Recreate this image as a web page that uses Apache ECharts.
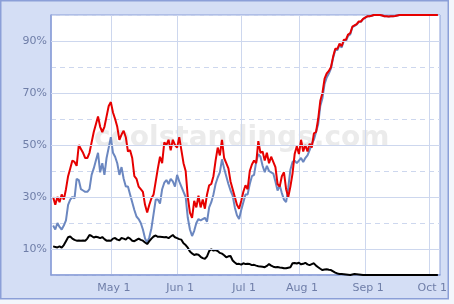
<!DOCTYPE html>
<html><head><meta charset="utf-8">
<script src="https://cdn.jsdelivr.net/npm/echarts@6/dist/echarts.min.js"></script>
<style>html,body{margin:0;padding:0;background:#f3f6fc}#c{width:454px;height:304px}</style>
</head><body><div id="c"></div>
<script>
// Axis: daily categories (game days), Apr 3 .. Oct 6, All-Star break days removed
const monthNames = ['Jan','Feb','Mar','Apr','May','Jun','Jul','Aug','Sep','Oct','Nov','Dec'];
const skipDays = ['Jul 12','Jul 13','Jul 14','Jul 15'];
const yTickLabels = [10, 30, 50, 70, 90];

// Values for Apr 4 .. Oct 5 (percent)
const redSeries = [
 30, 27, 30, 28, 31, 29, 33, 38, 41, 44,
 43.5, 42, 50, 48.5, 47, 45, 45, 47, 51, 55,
 58, 61, 57, 55, 57, 61, 65, 66.5, 62.5, 60,
 57, 52, 54, 55.5, 53, 47.5, 48, 45, 38, 37,
 34, 33, 32, 27, 24, 27, 29.5, 31, 36, 41,
 45.5, 43, 51, 50, 52, 48, 52, 50, 49, 53,
 48, 43, 40, 30, 24, 22, 28.5, 26, 30.5, 26,
 29, 25.5, 31, 34.5, 35, 38, 44, 49, 46, 52,
 45, 43, 41, 36, 33, 30, 27, 25.5, 28.5, 32,
 34.5, 33, 40, 42.5, 44, 43, 51.5, 47, 47.5, 44,
 47, 43, 45.5, 43.5, 41.5, 35, 34, 38, 39.5, 33,
 30, 34, 39, 46.5, 49.5, 46.5, 52, 47.5, 50, 47.5,
 50.5, 49, 54.5, 55, 60, 67, 70, 75.5, 77.5, 78.5,
 80, 84, 87, 87, 89, 88, 90.5, 90.5, 92.5, 93,
 95.5, 96, 96.5, 97.5, 97.5, 98.5, 99, 99.5, 99.5, 99.7,
 100, 100, 100, 100, 99.8, 99.5, 99.5, 99.4, 99.5, 99.5,
 99.6, 99.8, 100, 100, 100, 100, 100, 100, 100, 100,
 100, 100, 100, 100, 100, 100, 100, 100, 100, 100,
 100
];
const blueSeries = [
 19, 17.5, 20, 18.5, 17.5, 19, 21, 27, 29, 30,
 29.5, 37, 36.5, 33, 32.5, 32, 32, 33, 38.5, 41,
 44, 47, 39.5, 43, 38.5, 45, 49, 53, 47, 45.5,
 43, 38.5, 41.5, 37, 34, 34, 31, 28, 25, 22.5,
 21.5, 20, 17.5, 14, 12.5, 14.5, 18, 23.5, 29, 29,
 27.5, 33, 35.5, 36.5, 35, 37, 36, 34, 38.5, 36,
 34, 32, 30, 22, 17.5, 15, 17, 20, 21.5, 21,
 21.5, 22, 20.5, 26, 28, 31, 35, 37.5, 39.5, 44.5,
 41, 38, 35, 32.5, 30.5, 26, 23, 21.5, 25, 28,
 31, 31, 35, 38, 38.5, 43.5, 46.5, 45.5, 42, 39.5,
 42, 40, 39.5, 39, 36, 32.5, 34.5, 31.5, 29, 28,
 33.5, 40.5, 43.5, 44, 43, 44, 45, 43.5, 45, 46,
 48, 50.5, 52, 55, 58, 65, 68, 73.5, 76, 77.5,
 79.5, 83.5, 86.5, 86.5, 88.5, 87.5, 90, 90, 92, 92.5,
 95.3, 95.8, 96.3, 97.3, 97.4, 98.4, 99, 99.5, 99.5, 99.7,
 100, 100, 100, 100, 99.8, 99.5, 99.5, 99.4, 99.5, 99.5,
 99.6, 99.8, 100, 100, 100, 100, 100, 100, 100, 100,
 100, 100, 100, 100, 100, 100, 100, 100, 100, 100,
 100
];
const blackSeries = [
 11, 10.8, 10.6, 11, 10.5, 11.5, 13, 14.5, 14.8, 14,
 13.5, 13.2, 13.3, 13.2, 13.3, 13.2, 14, 15.4, 15, 14.4,
 14.7, 14.5, 14.2, 14.6, 13.8, 13.2, 13.3, 13.2, 14, 14.2,
 13.6, 13.4, 14.2, 14, 13.6, 14.5, 14, 13.2, 13, 13.5,
 14, 13.5, 13.2, 12.5, 11.9, 13, 14, 14.8, 15.2, 14.7,
 14.7, 14.6, 14.5, 14.6, 14.2, 14.8, 15.4, 14.5, 14.2, 13.8,
 13.6, 12.2, 11.5, 10.5, 9, 8.3, 7.7, 8, 7.8, 7,
 6.5, 6.2, 7.2, 9.2, 9.9, 9.4, 9.6, 9.2, 8.5, 8.2,
 7.6, 6.8, 7.2, 7.3, 5.6, 4.8, 4.2, 4.3, 4, 4.5,
 4.2, 4.3, 4.2, 3.8, 3.9, 3.6, 3.4, 3.3, 3.2, 3,
 3.5, 4.2, 3.6, 3.2, 3, 3.1, 2.9, 2.8, 2.6, 2.6,
 2.8, 3, 4.5, 4.6, 4.4, 4.7, 4.1, 4.3, 4.7, 4.1,
 3.8, 4.2, 4.5, 3.6, 3, 2.4, 1.9, 2.1, 2.2, 2,
 1.9, 1.4, 0.9, 0.6, 0.4, 0.4, 0.3, 0.2, 0.1, 0,
 0.2, 0.4, 0.3, 0.2, 0.1, 0, 0, 0, 0, 0,
 0, 0, 0, 0, 0, 0, 0, 0, 0, 0,
 0, 0, 0, 0, 0, 0, 0, 0, 0, 0,
 0, 0, 0, 0, 0, 0, 0, 0, 0, 0,
 0
];

const categories = [];
for (let d = new Date(2009, 3, 3); d <= new Date(2009, 9, 6); d.setDate(d.getDate() + 1)) {
  const s = monthNames[d.getMonth()] + ' ' + d.getDate();
  if (!skipDays.includes(s)) categories.push(s);
}
const pad = arr => [null].concat(arr, [null]);
const isMonthStart = (i, v) => String(v).split(' ')[1] === '1';

const gridColor = '#cdd7ee';
const frameColor = '#8b9fd8';
const labelColor = '#6f7ea8';

const chart = echarts.init(document.getElementById('c'));
chart.setOption({
  animation: false,
  backgroundColor: '#f3f6fc',
  grid: { left: 51, right: 14, top: 15, bottom: 29, containLabel: false },
  graphic: [
    { type: 'rect', z: -10, shape: { x: 0.75, y: 0.75, width: 447.5, height: 298 },
      style: { fill: '#d4def5', stroke: frameColor, lineWidth: 1.5 } },
    { type: 'rect', z: -9, shape: { x: 51, y: 15, width: 389, height: 260 },
      style: { fill: '#ffffff', stroke: frameColor, lineWidth: 1 } },
    { type: 'text', z: -8, x: 94, y: 139,
      style: { text: 'coolstandings.com', fontSize: 28, fontWeight: 'bold', fontFamily: 'DejaVu Sans',
               fill: '#ebebeb', verticalAlign: 'middle' } }
  ],
  xAxis: {
    type: 'category', data: categories, boundaryGap: false,
    axisLine: { show: true, lineStyle: { color: frameColor, width: 1.5 } },
    axisTick: { show: false },
    axisLabel: { interval: isMonthStart, color: labelColor, fontSize: 11, fontFamily: 'DejaVu Sans',
                 margin: 8, padding: [0, 0, 0, 6] },
    splitLine: { show: true, interval: isMonthStart, lineStyle: { color: gridColor, width: 1 } }
  },
  yAxis: {
    type: 'value', min: 0, max: 100, interval: 10,
    axisLine: { show: true, lineStyle: { color: frameColor, width: 1.5 } },
    axisTick: { show: false },
    axisLabel: { color: labelColor, fontSize: 11, fontFamily: 'DejaVu Sans', margin: 4,
                 formatter: v => yTickLabels.includes(v) ? v + '%' : '' },
    splitLine: { show: true, lineStyle: { color: gridColor, width: 1, type: [5, 4] } }
  },
  series: [
    { type: 'line', z: 1, data: [], silent: true,
      markLine: { silent: true, symbol: ['none', 'none'], label: { show: false },
                  lineStyle: { color: gridColor, width: 1, type: 'solid' },
                  data: yTickLabels.map(v => ({ yAxis: v })) } },
    { type: 'line', name: 'blue', data: pad(blueSeries), showSymbol: false,
      lineStyle: { color: '#6b87c0', width: 2 }, itemStyle: { color: '#6b87c0' } },
    { type: 'line', name: 'red', data: pad(redSeries), showSymbol: false,
      lineStyle: { color: '#e60000', width: 2 }, itemStyle: { color: '#e60000' } },
    { type: 'line', name: 'black', data: pad(blackSeries), showSymbol: false,
      lineStyle: { color: '#000000', width: 2 }, itemStyle: { color: '#000000' } }
  ]
});
</script>
</body></html>
